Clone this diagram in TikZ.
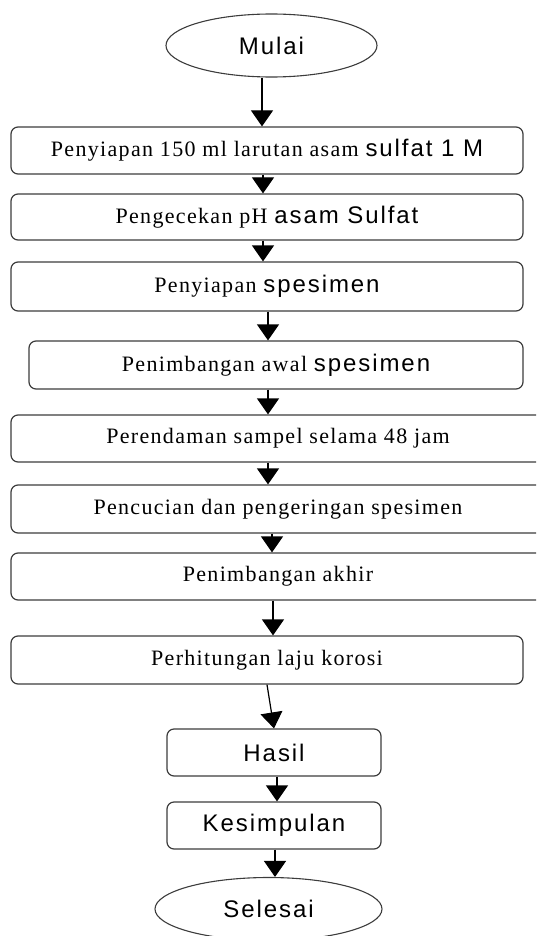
\documentclass[tikz,border=0pt]{standalone}
\usepackage{fontspec}
\setmainfont{Liberation Serif}
\newfontfamily\wideserif[LetterSpace=6]{Liberation Serif}
\newfontfamily\widesans[LetterSpace=8]{Liberation Sans}
\usepackage{tikz}
\usetikzlibrary{arrows.meta,shapes.geometric}
\definecolor{boxline}{RGB}{60,60,60}
\newcommand{\serifpart}[1]{{\wideserif\fontsize{22}{24}\selectfont #1}}
\newcommand{\sanspart}[1]{{\widesans\fontsize{24}{26}\selectfont #1}}
\tikzset{proc box/.style={draw=boxline,
      line width=1.2pt,
      rounded corners=7pt,
      minimum width=#1,
      minimum height=47pt,
      inner sep=0pt,
      align=center
    },
  proc box/.default=512pt,
  term/.style={draw=boxline, line width=1.1pt, ellipse,
      minimum width=#1, minimum height=63pt, inner sep=0pt},
  term/.default=211pt,
  flow/.style={draw=black, line width=1.2pt,
      -{Triangle[width=22pt,length=16pt]}}
}

\begin{document}
\begin{tikzpicture}[x=1pt,y=-1pt]
    \useasboundingbox (0,0) rectangle (536,936);
    \clip (0,0) rectangle (536,936);
    \node[term] (mulai) at (271.5,45.5) {\sanspart{Mulai}};
    \node[proc box] (b1) at (267,150.5)
        {\serifpart{Penyiapan 150 ml larutan asam }\sanspart{sulfat 1 M}};
    \node[proc box, minimum height=46pt] (b2) at (267,217)
        {\serifpart{Pengecekan pH }\sanspart{asam Sulfat}};
    \node[proc box, minimum height=49pt] (b3) at (267,286.5)
        {\serifpart{Penyiapan }\sanspart{spesimen}};
    \node[proc box=494pt, minimum height=48pt] (b4) at (276,365)
        {\serifpart{Penimbangan awal }\sanspart{spesimen}};
    \node[proc box=534pt] (b5) at (278,438.5)
        {\serifpart{Perendaman sampel selama 48 jam}};
    \node[proc box=534pt, minimum height=48pt] (b6) at (278,509)
        {\serifpart{Pencucian dan pengeringan spesimen}};
    \node[proc box=534pt] (b7) at (278,576.5)
        {\serifpart{Penimbangan akhir}};
    \node[proc box, minimum height=48pt] (b8) at (267,660)
        {\serifpart{Perhitungan laju korosi}};
    \node[proc box=214pt] (hasil) at (274,752.5) {\sanspart{Hasil}};
    \node[proc box=214pt] (simpul) at (274,825.5) {\sanspart{Kesimpulan}};
    \node[term=227pt] (selesai) at (268.5,909) {\sanspart{Selesai}};

    % arrows
    \draw[flow] ([xshift=-9.5pt]mulai.south) -- ([xshift=-5pt]b1.north);
    \draw[flow] ([xshift=-4pt]b1.south) -- ([xshift=-4pt]b2.north);
    \draw[flow] ([xshift=-4pt]b2.south) -- ([xshift=-4pt]b3.north);
    \draw[flow] ([xshift=1pt]b3.south) -- ([xshift=-8pt]b4.north);
    \draw[flow] ([xshift=-8pt]b4.south) -- ([xshift=-10pt]b5.north);
    \draw[flow] ([xshift=-10pt]b5.south) -- ([xshift=-10pt]b6.north);
    \draw[flow] ([xshift=-6pt]b6.south) -- ([xshift=-6pt]b7.north);
    \draw[flow] ([xshift=-5pt]b7.south) -- ([xshift=6pt]b8.north);
    \draw[flow] (b8.south) -- (hasil.north);
    \draw[flow] ([xshift=3pt]hasil.south) -- ([xshift=3pt]simpul.north);
    \draw[flow] ([xshift=1pt]simpul.south) -- ([xshift=6.5pt]selesai.north);
\end{tikzpicture}
\end{document}
